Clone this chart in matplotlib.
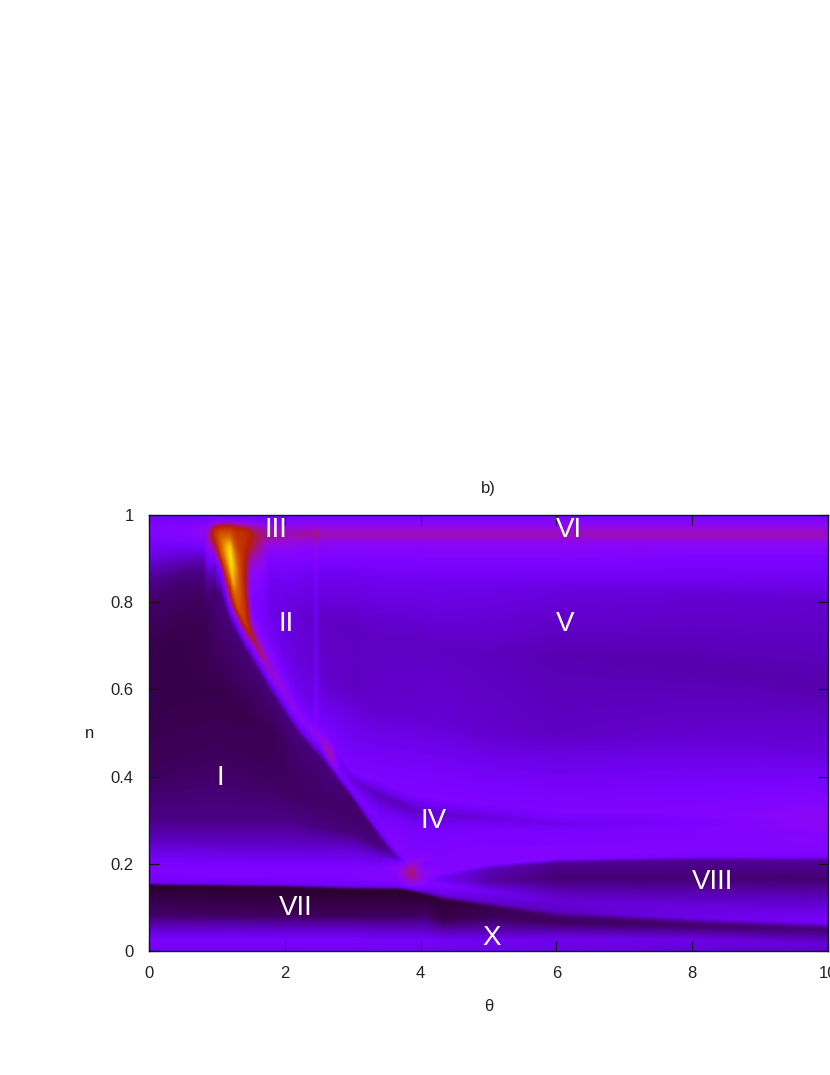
import numpy as np
import matplotlib
matplotlib.use("Agg")
import matplotlib.pyplot as plt

plt.rcParams['font.family'] = ['Liberation Sans', 'DejaVu Sans']

# Field read off the picture as feature-following rows: in every column (theta) each
# row has a position n and a colour-scale level.
# --- lower rows: bottom band, dark VII / X band, bright band, wedge VIII
low_theta = [0, 2, 3, 3.4, 3.65, 3.85, 4.05, 4.3, 5, 6, 8, 10]
low_n = [
    [0, .02, .05, .08, .15, .155, .18, .195, .205, .22, .25, .30],
    [0, .02, .045, .08, .145, .152, .175, .19, .20, .215, .245, .30],
    [0, .02, .045, .08, .14, .148, .17, .185, .195, .21, .235, .27],
    [0, .02, .045, .08, .14, .147, .165, .18, .19, .20, .215, .235],
    [0, .02, .045, .08, .14, .147, .16, .175, .185, .195, .205, .21],
    [0, .02, .045, .08, .135, .145, .155, .165, .172, .178, .185, .19],
    [0, .02, .045, .08, .127, .135, .145, .155, .165, .175, .19, .205],
    [0, .02, .04, .07, .117, .127, .15, .16, .168, .178, .195, .21],
    [0, .02, .04, .075, .10, .11, .135, .16, .188, .198, .215, .24],
    [0, .025, .045, .065, .078, .09, .115, .165, .203, .21, .23, .25],
    [0, .025, .04, .055, .063, .075, .10, .165, .208, .216, .235, .255],
    [0, .015, .03, .045, .052, .065, .09, .165, .208, .216, .24, .26],
]
low_level = [
    [.20, .23, .15, .07, .03, .20, .25, .24, .22, .19, .14, .09],
    [.20, .23, .16, .06, .03, .20, .25, .24, .22, .19, .14, .09],
    [.20, .23, .16, .06, .03, .20, .25, .25, .23, .20, .15, .08],
    [.20, .22, .15, .06, .03, .20, .26, .25, .24, .21, .16, .09],
    [.20, .22, .15, .06, .03, .20, .26, .28, .30, .28, .20, .14],
    [.20, .22, .15, .06, .03, .25, .33, .40, .42, .43, .42, .40],
    [.20, .22, .15, .07, .03, .15, .24, .27, .30, .30, .27, .25],
    [.19, .21, .14, .05, .035, .17, .25, .20, .20, .27, .26, .25],
    [.18, .20, .14, .06, .05, .14, .20, .11, .13, .26, .26, .25],
    [.18, .19, .12, .06, .07, .14, .16, .075, .10, .25, .27, .24],
    [.16, .18, .12, .07, .08, .18, .17, .075, .10, .24, .26, .25],
    [.15, .16, .12, .08, .09, .22, .18, .07, .11, .24, .27, .28],
]
# --- middle rows: region I
mid_theta = [0, 1, 1.78, 2.2, 2.66, 3, 3.4, 3.65, 3.85, 4.2, 5, 6, 8, 10]
mid_n = [
    [.40, .55], [.45, .60], [.40, .50], [.36, .42], [.33, .37], [.29, .31], [.24, .245],
    [.2115, .213], [.192, .194], [.211, .213], [.243, .246], [.254, .258], [.26, .265], [.265, .27],
]
mid_level = [
    [.06, .05], [.06, .05], [.06, .055], [.065, .07], [.07, .075], [.075, .07], [.085, .08],
    [.14, .14], [.39, .37], [.25, .25], [.25, .25], [.24, .24], [.25, .25], [.27, .27],
]
# --- upper rows: ridge, branch, region V, top band
up_theta = [0, .5, .8, .95, 1.05, 1.15, 1.19, 1.23, 1.29, 1.4, 1.51, 1.78, 2.2, 2.4, 2.45, 2.5,
            2.66, 2.8, 3, 3.4, 3.65, 3.85, 4.2, 5, 6, 8, 10]
up_n = [
    [.68, .75, .80, .84, .87, .89, .905, .92, .93, .94, .955, .975, .985, 1],
    [.72, .79, .84, .87, .89, .905, .915, .925, .935, .945, .96, .975, .985, 1],
    [.76, .82, .86, .88, .90, .915, .925, .935, .94, .945, .955, .965, .982, 1],
    [.83, .885, .92, .935, .945, .95, .955, .96, .965, .97, .975, .98, .99, 1],
    [.82, .88, .905, .92, .93, .94, .945, .95, .955, .96, .965, .975, .988, 1],
    [.77, .80, .86, .90, .92, .93, .94, .95, .955, .96, .968, .977, .988, 1],
    [.755, .78, .83, .88, .91, .93, .94, .95, .955, .96, .968, .977, .988, 1],
    [.74, .765, .81, .85, .89, .92, .935, .945, .955, .96, .968, .977, .988, 1],
    [.725, .75, .795, .83, .87, .90, .925, .94, .95, .96, .968, .977, .988, 1],
    [.695, .72, .755, .80, .85, .89, .92, .935, .95, .96, .968, .977, .988, 1],
    [.665, .69, .72, .755, .80, .85, .89, .92, .945, .955, .965, .977, .988, 1],
    [.595, .615, .64, .67, .71, .76, .82, .88, .92, .94, .955, .972, .985, 1],
    [.495, .515, .54, .55, .57, .60, .68, .78, .86, .915, .94, .956, .98, 1],
    [.46, .48, .505, .515, .525, .545, .64, .76, .86, .915, .94, .956, .98, 1],
    [.452, .472, .497, .507, .517, .537, .64, .76, .86, .915, .94, .956, .98, 1],
    [.445, .465, .487, .497, .507, .527, .64, .76, .86, .915, .94, .956, .98, 1],
    [.415, .43, .445, .46, .475, .49, .60, .75, .86, .915, .94, .956, .98, 1],
    [.385, .40, .41, .42, .435, .45, .60, .75, .86, .915, .94, .956, .98, 1],
    [.345, .358, .372, .378, .39, .41, .60, .75, .86, .915, .94, .956, .98, 1],
    [.255, .27, .29, .32, .355, .39, .55, .72, .85, .915, .94, .956, .98, 1],
    [.215, .222, .235, .30, .34, .375, .55, .72, .85, .915, .94, .956, .98, 1],
    [.197, .205, .215, .285, .325, .365, .55, .72, .85, .915, .94, .956, .98, 1],
    [.215, .225, .24, .28, .315, .35, .52, .70, .84, .91, .94, .956, .98, 1],
    [.25, .26, .27, .285, .305, .34, .50, .68, .83, .91, .94, .956, .98, 1],
    [.262, .27, .275, .285, .29, .32, .50, .68, .83, .91, .94, .956, .98, 1],
    [.27, .278, .283, .29, .295, .315, .50, .66, .82, .91, .94, .956, .98, 1],
    [.275, .282, .287, .29, .295, .305, .45, .60, .80, .91, .94, .956, .98, 1],
]
up_level = [
    [.05, .06, .07, .09, .12, .15, .175, .20, .22, .235, .25, .25, .24, .22],
    [.05, .06, .07, .09, .12, .15, .175, .20, .22, .24, .26, .26, .24, .21],
    [.055, .065, .08, .10, .13, .17, .20, .23, .25, .27, .30, .31, .26, .21],
    [.075, .15, .32, .42, .50, .52, .55, .55, .55, .50, .45, .36, .26, .21],
    [.085, .28, .60, .70, .72, .73, .73, .72, .70, .68, .64, .50, .28, .21],
    [.08, .20, .65, .88, .92, .90, .84, .75, .72, .68, .62, .48, .28, .21],
    [.08, .20, .55, .95, .97, .93, .86, .75, .72, .68, .62, .48, .28, .21],
    [.08, .20, .62, .90, .92, .84, .74, .68, .64, .60, .58, .45, .28, .21],
    [.08, .22, .70, .74, .78, .72, .64, .62, .60, .58, .53, .42, .27, .21],
    [.08, .25, .62, .58, .50, .52, .54, .56, .57, .57, .52, .40, .27, .21],
    [.08, .22, .50, .32, .24, .27, .34, .44, .49, .49, .45, .36, .26, .21],
    [.08, .20, .36, .30, .22, .19, .18, .21, .28, .35, .40, .34, .25, .21],
    [.08, .20, .30, .27, .22, .19, .165, .16, .20, .27, .33, .40, .30, .22],
    [.08, .20, .30, .27, .23, .20, .16, .15, .19, .26, .32, .40, .30, .22],
    [.08, .20, .31, .29, .27, .25, .21, .20, .23, .30, .36, .44, .32, .22],
    [.08, .20, .32, .29, .25, .21, .155, .14, .19, .26, .32, .39, .30, .22],
    [.08, .22, .42, .38, .30, .24, .15, .14, .19, .26, .31, .38, .30, .22],
    [.08, .20, .24, .23, .20, .24, .15, .14, .19, .26, .31, .38, .30, .22],
    [.07, .20, .24, .20, .16, .24, .14, .14, .19, .26, .31, .38, .30, .22],
    [.08, .20, .24, .20, .13, .245, .15, .14, .19, .26, .31, .38, .30, .22],
    [.14, .22, .28, .22, .13, .25, .15, .14, .19, .26, .31, .38, .30, .22],
    [.36, .30, .26, .22, .14, .25, .15, .14, .19, .26, .31, .38, .30, .22],
    [.25, .24, .24, .22, .15, .255, .16, .14, .19, .26, .31, .38, .30, .22],
    [.25, .25, .25, .22, .17, .25, .15, .135, .18, .26, .31, .38, .30, .22],
    [.24, .235, .23, .21, .19, .255, .14, .125, .17, .26, .31, .38, .30, .22],
    [.25, .25, .245, .235, .225, .26, .15, .12, .16, .25, .31, .38, .30, .22],
    [.28, .29, .30, .30, .30, .30, .17, .12, .15, .25, .31, .38, .30, .22],
]

x_ticks = [0, 2, 4, 6, 8, 10]
y_ticks = [0, .2, .4, .6, .8, 1]
y_tick_labels = ['0', '0.2', '0.4', '0.6', '0.8', '1']
title = 'b)'
x_label = 'θ'
y_label = 'n'
region_names = ['I', 'II', 'III', 'IV', 'V', 'VI', 'VII', 'VIII', 'X']
region_theta = [1.05, 2.02, 1.87, 4.19, 6.13, 6.19, 2.16, 8.3, 5.04]
region_n = [.396, .749, .966, .298, .751, .966, .098, .159, .03]


def rows_at(theta, nodes, table):
    """Row values of one table at a given theta, between its read columns."""
    table = np.asarray(table, float)
    return np.array([np.interp(theta, nodes, table[:, i]) for i in range(table.shape[1])])


grid_theta = np.linspace(0, 10, 560)
grid_n = np.linspace(0, 1, 400)
field = np.zeros((grid_n.size, grid_theta.size))
for j, t in enumerate(grid_theta):
    ns = np.concatenate([rows_at(t, low_theta, low_n), rows_at(t, mid_theta, mid_n), rows_at(t, up_theta, up_n)])
    vs = np.concatenate([rows_at(t, low_theta, low_level), rows_at(t, mid_theta, mid_level), rows_at(t, up_theta, up_level)])
    field[:, j] = np.interp(grid_n, np.maximum.accumulate(ns), vs)

W, H = 830, 1075
fig = plt.figure(figsize=(W / 100, H / 100), dpi=100, facecolor='white')
ax = fig.add_axes([149 / W, (H - 951) / H, (828 - 149) / W, (951 - 515) / H])
ax.imshow(field, origin='lower', extent=(0, 10, 0, 1), aspect='auto', cmap='gnuplot',
          vmin=0, vmax=1, interpolation='bicubic')
ax.set_xlim(0, 10)
ax.set_ylim(0, 1)
ax.set_xticks(x_ticks)
ax.set_yticks(y_ticks)
ax.set_yticklabels(y_tick_labels)
ax.tick_params(direction='in', length=7.5, width=0.8, top=True, right=True,
               labelsize=12, color='#111111', labelcolor='#222222')
ax.tick_params(axis='x', pad=11)
ax.tick_params(axis='y', pad=11)
for s in ax.spines.values():
    s.set_linewidth(1.0)
    s.set_color('#111133')
ax.set_title(title, fontsize=12, color='#222222', pad=16)
ax.set_xlabel(x_label, fontsize=12, color='#222222', labelpad=12.5)
ax.set_ylabel(y_label, fontsize=12, color='#222222', rotation=0, va='center', labelpad=15)
for name, t, v in zip(region_names, region_theta, region_n):
    ax.text(t, v, name, color='white', fontsize=20, ha='center', va='center', clip_on=True)
fig.savefig('out.png', dpi=100, facecolor='white')
